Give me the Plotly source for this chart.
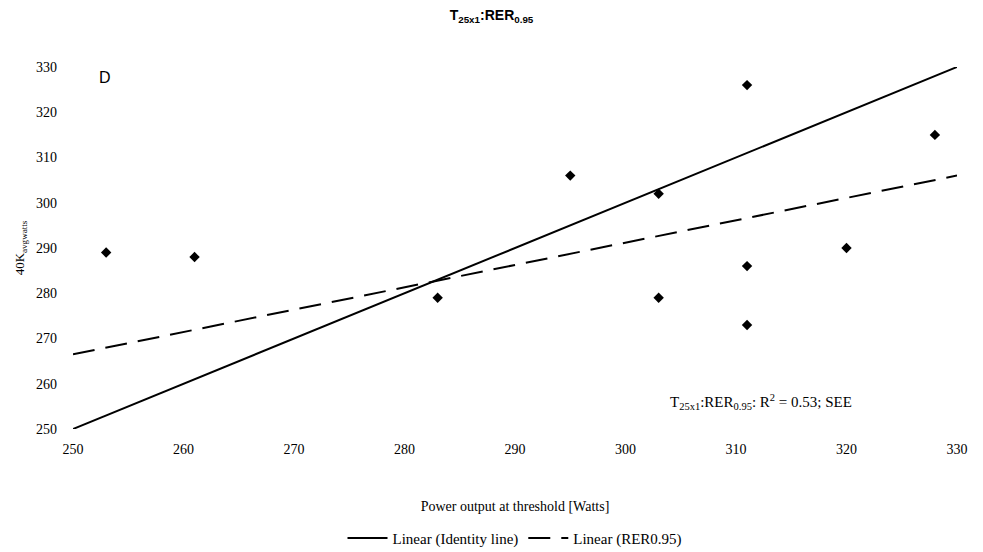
import plotly.graph_objects as go

# Data
power_threshold = [253, 261, 283, 295, 303, 303, 311, 311, 311, 320, 328]
k40_avgwatts = [289, 288, 279, 306, 302, 279, 326, 286, 273, 290, 315]
identity_x = [250, 330]
identity_y = [250, 330]
rer_trend_x = [250, 330]
rer_trend_y = [266.5, 306]
x_ticks = [250, 260, 270, 280, 290, 300, 310, 320, 330]
y_ticks = [250, 260, 270, 280, 290, 300, 310, 320, 330]

serif = "Liberation Serif, Times New Roman, serif"
sans = "Liberation Sans, Arial, sans-serif"

fig = go.Figure()
fig.add_trace(go.Scatter(
    x=power_threshold, y=k40_avgwatts, mode="markers",
    marker=dict(symbol="diamond", size=8, color="black"),
    showlegend=False, cliponaxis=False))
fig.add_trace(go.Scatter(
    x=identity_x, y=identity_y, mode="lines",
    line=dict(color="black", width=2),
    name="Linear (Identity line)"))
fig.add_trace(go.Scatter(
    x=rer_trend_x, y=rer_trend_y, mode="lines",
    line=dict(color="black", width=2, dash="22px,11px"),
    name="Linear (RER0.95)"))

fig.update_layout(
    width=983, height=552,
    margin=dict(l=73, r=26, t=67, b=123),
    paper_bgcolor="white", plot_bgcolor="white",
    font=dict(family=serif, size=14, color="black"),
    title=dict(text="<b>T<sub>25x1</sub>:RER<sub>0.95</sub></b>",
               x=0.5, xanchor="center", y=0.972, yanchor="middle",
               font=dict(family=sans, size=14, color="black")),
    xaxis=dict(range=[250, 330], tickvals=x_ticks, showgrid=False,
               zeroline=False, showline=False, ticks="", automargin=False,
               ticklabelstandoff=10,
               tickfont=dict(family=serif, size=14),
               title=dict(text="Power output at threshold [Watts]",
                          font=dict(family=serif, size=14), standoff=45)),
    yaxis=dict(range=[250, 330], tickvals=y_ticks, showgrid=False,
               zeroline=False, showline=False, ticks="", automargin=False,
               ticklabelstandoff=15,
               tickfont=dict(family=serif, size=14),
               title=dict(text="40K<sub>avgwatts</sub>",
                          font=dict(family=serif, size=13), standoff=8)),
    legend=dict(orientation="h", x=0.5, xanchor="center",
                yref="container", y=0.025, yanchor="middle",
                font=dict(family=serif, size=15), itemwidth=40),
    annotations=[
        dict(text="D", x=0.036, y=0.97, xref="paper", yref="paper",
             showarrow=False, xanchor="center", yanchor="middle",
             font=dict(family=sans, size=16, color="black")),
        dict(text="T<sub>25x1</sub>:RER<sub>0.95</sub>: R<sup>2</sup> = 0.53; SEE",
             x=0.778, y=0.075, xref="paper", yref="paper", showarrow=False,
             xanchor="center", yanchor="middle",
             font=dict(family=serif, size=15, color="black")),
    ],
)

fig.write_html("out.html")
